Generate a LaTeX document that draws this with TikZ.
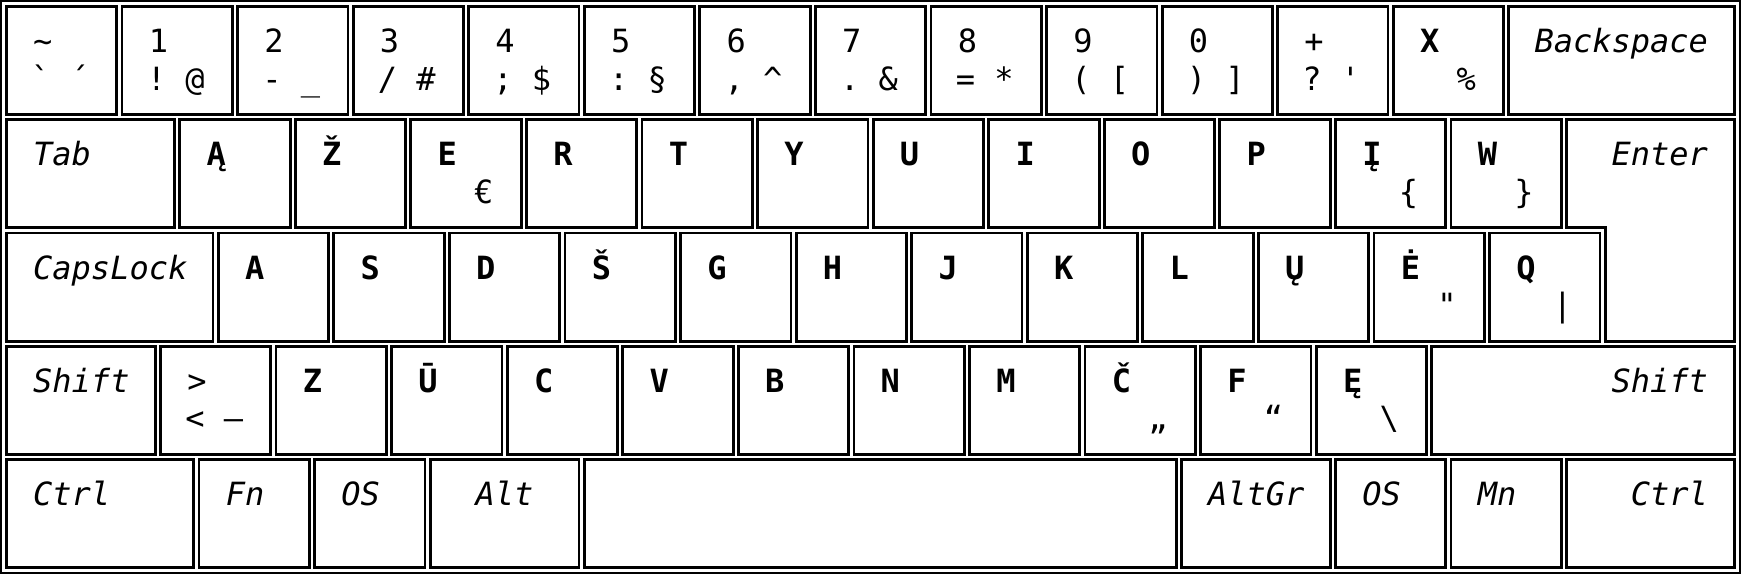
\documentclass[tikz,border=0pt]{standalone}
\usepackage{fontspec}
\newfontfamily\kf{DejaVu Sans Mono}[BoldFont={DejaVu Sans Mono Bold},ItalicFont={DejaVu Sans Mono Oblique}]
\newcommand\kfs{\kf\fontsize{32}{38}\selectfont}
\tikzset{
 keyline/.style={draw=black, line width=2.8pt, fill=white, inner sep=0pt},
 lg/.style={anchor=base west, inner sep=0pt, font=\kfs},
 lgb/.style={lg, font=\kfs\bfseries},
 lgi/.style={lg, font=\kfs\itshape},
 lgir/.style={anchor=base east, inner sep=0pt, font=\kfs\itshape},
 lgic/.style={anchor=base, inner sep=0pt, font=\kfs\itshape},
}
\def\ux{115.57}\def\uy{113.3}\def\gp{2.4}\def\lw{2.8}
\newcommand\keyat[4]{%
 \pgfmathsetmacro\kx{5+#2*\ux}%
 \pgfmathsetmacro\ky{5+#3*\uy}%
 \pgfmathsetmacro\kr{5+(#2+#4)*\ux-\gp}%
 \node[keyline, anchor=north west, minimum width={(#4*\ux-\gp-\lw)*1pt}, minimum height={(\uy-\gp-\lw)*1pt}] (#1) at (\kx,\ky) {};
}
\newcommand\numkey[6]{%
 \keyat{#1}{#2}{#3}{1}
 \node[lg] (#1t) at ({\kx+28},{\ky+47.5}) {#4};
 \node[lg] (#1b) at ({\kx+26},{\ky+85}) {#5};
 \node[lg] (#1c) at ({\kx+64.5},{\ky+85}) {#6};
}
\newcommand\letkey[5]{%
 \keyat{#1}{#2}{#3}{1}
 \node[lgb] (#1t) at ({\kx+28},{\ky+47.5}) {#4};
 \if\relax\detokenize{#5}\relax\else\node[lg] (#1c) at ({\kx+64.5},{\ky+85}) {#5};\fi
}
\newcommand\modl[5]{%
 \keyat{#1}{#2}{#3}{#4}
 \node[lgi] (#1t) at ({\kx+28},{\ky+47.5}) {#5};
}
\newcommand\modr[5]{%
 \keyat{#1}{#2}{#3}{#4}
 \node[lgir] (#1t) at ({\kr-28},{\ky+47.5}) {#5};
}
\newcommand\modc[5]{%
 \keyat{#1}{#2}{#3}{#4}
 \node[lgic] (#1t) at ({(\kx+\kr)/2},{\ky+47.5}) {#5};
}
\begin{document}
\begin{tikzpicture}[x=1pt,y=-1pt]
\useasboundingbox (0,0) rectangle (1741,574);
\fill[white] (0,0) rectangle (1741,574);
\draw[line width=2.2pt] (1.1,1.1) rectangle (1739.9,572.9);
% row 1
\numkey{kt}{0}{0}{\symbol{"7E}}{\symbol{"60}}{´}
\numkey{k1}{1}{0}{1}{!}{@}
\numkey{k2}{2}{0}{2}{-}{\symbol{"5F}}
\numkey{k3}{3}{0}{3}{/}{\symbol{"23}}
\numkey{k4}{4}{0}{4}{;}{\symbol{"24}}
\numkey{k5}{5}{0}{5}{:}{§}
\numkey{k6}{6}{0}{6}{,}{\symbol{"5E}}
\numkey{k7}{7}{0}{7}{.}{\symbol{"26}}
\numkey{k8}{8}{0}{8}{=}{*}
\numkey{k9}{9}{0}{9}{(}{[}
\numkey{k0}{10}{0}{0}{)}{]}
\numkey{kp}{11}{0}{+}{?}{\symbol{"27}}
\letkey{kx}{12}{0}{X}{\symbol{"25}}
\modr{kbs}{13}{0}{2}{Backspace}
% row 2
\modl{ktab}{0}{1}{1.5}{Tab}
\letkey{ka1}{1.5}{1}{Ą}{}
\letkey{kzh}{2.5}{1}{Ž}{}
\letkey{ke}{3.5}{1}{E}{€}
\letkey{kr}{4.5}{1}{R}{}
\letkey{ktt}{5.5}{1}{T}{}
\letkey{ky}{6.5}{1}{Y}{}
\letkey{ku}{7.5}{1}{U}{}
\letkey{ki}{8.5}{1}{I}{}
\letkey{ko}{9.5}{1}{O}{}
\letkey{kpp}{10.5}{1}{P}{}
\letkey{ki1}{11.5}{1}{Į}{\symbol{"7B}}
\letkey{kw}{12.5}{1}{W}{\symbol{"7D}}
% enter
\pgfmathsetmacro\exl{5+13.5*\ux+\lw/2}
\pgfmathsetmacro\exm{5+(83/6)*\ux+\lw/2}
\pgfmathsetmacro\exr{5+15*\ux-\gp-\lw/2}
\pgfmathsetmacro\eyt{5+\uy+\lw/2}
\pgfmathsetmacro\eym{5+2*\uy-\gp-\lw/2}
\pgfmathsetmacro\eyb{5+3*\uy-\gp-\lw/2}
\draw[keyline] (\exl,\eyt) -- (\exr,\eyt) -- (\exr,\eyb) -- (\exm,\eyb) -- (\exm,\eym) -- (\exl,\eym) -- cycle;
\node[lgir] (kent) at ({5+15*\ux-\gp-28},{5+\uy+47.5}) {Enter};
% row 3
\modl{kcaps}{0}{2}{11/6}{CapsLock}
\letkey{ka}{11/6}{2}{A}{}
\letkey{ks}{17/6}{2}{S}{}
\letkey{kd}{23/6}{2}{D}{}
\letkey{ksh}{29/6}{2}{Š}{}
\letkey{kg}{35/6}{2}{G}{}
\letkey{kh}{41/6}{2}{H}{}
\letkey{kj}{47/6}{2}{J}{}
\letkey{kk}{53/6}{2}{K}{}
\letkey{kl}{59/6}{2}{L}{}
\letkey{ku1}{65/6}{2}{Ų}{}
\letkey{ked}{71/6}{2}{Ė}{\symbol{"22}}
\letkey{kq}{77/6}{2}{Q}{\symbol{"7C}}
% row 4
\modl{klsh}{0}{3}{4/3}{Shift}
\numkey{klt}{4/3}{3}{>}{<}{–}
\letkey{kz}{7/3}{3}{Z}{}
\letkey{kum}{10/3}{3}{Ū}{}
\letkey{kc}{13/3}{3}{C}{}
\letkey{kv}{16/3}{3}{V}{}
\letkey{kb}{19/3}{3}{B}{}
\letkey{kn}{22/3}{3}{N}{}
\letkey{km}{25/3}{3}{M}{}
\letkey{kch}{28/3}{3}{Č}{„}
\letkey{kf}{31/3}{3}{F}{“}
\letkey{ke1}{34/3}{3}{Ę}{\symbol{"5C}}
\modr{krsh}{37/3}{3}{8/3}{Shift}
% row 5
\modl{klc}{0}{4}{5/3}{Ctrl}
\modl{kfn}{5/3}{4}{1}{Fn}
\modl{kos1}{8/3}{4}{1}{OS}
\modc{kalt}{11/3}{4}{4/3}{Alt}
\keyat{kspace}{5}{4}{31/6}
\modl{kagr}{61/6}{4}{4/3}{AltGr}
\modl{kos2}{11.5}{4}{1}{OS}
\modl{kmn}{12.5}{4}{1}{Mn}
\modr{krc}{13.5}{4}{1.5}{Ctrl}
\end{tikzpicture}
\end{document}
